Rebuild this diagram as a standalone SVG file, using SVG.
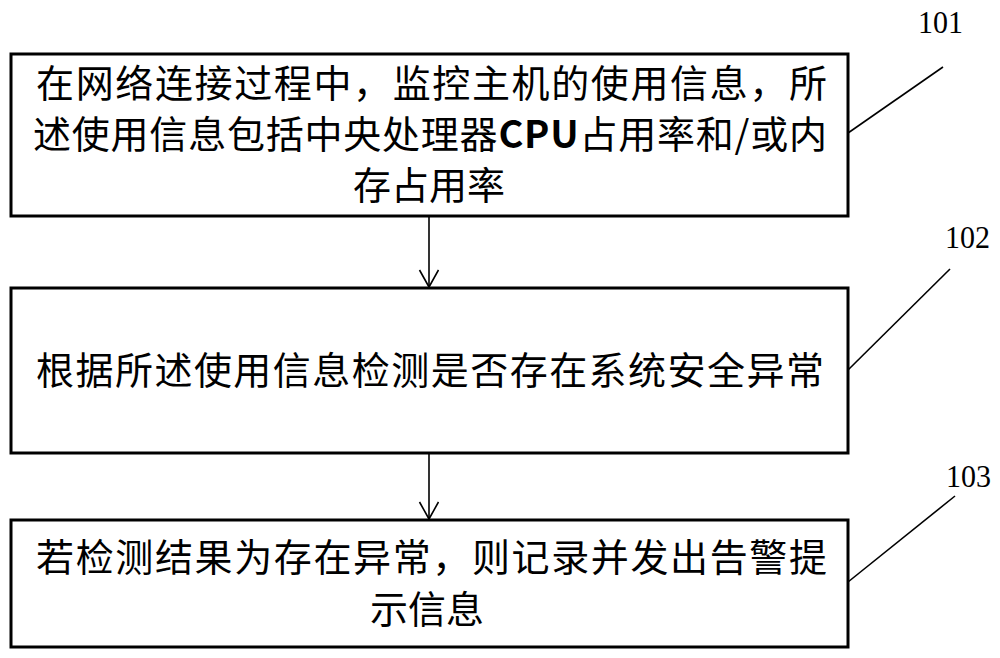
<svg xmlns="http://www.w3.org/2000/svg" width="1000" height="658" viewBox="0 0 1000 658">
<defs>
<style>
.box{fill:#fff;stroke:#000;stroke-width:3}
.t{font-family:"Noto Sans CJK SC","Noto Sans CJK JP",sans-serif;font-size:38px;fill:#000}
.lbl{font-family:"Liberation Serif","Times New Roman",serif;font-size:32px;fill:#000}
.ln{stroke:#000;stroke-width:1.6;fill:none}
</style>
<marker id="arr" markerWidth="24" markerHeight="24" refX="20" refY="10" orient="auto" markerUnits="userSpaceOnUse">
<path d="M3,0.5 L20,10 L3,19.5" fill="none" stroke="#000" stroke-width="1.6"/>
</marker>
</defs>
<rect width="1000" height="658" fill="#fff"/>
<g id="connectors">
<line class="ln" x1="429" y1="217" x2="429" y2="287" marker-end="url(#arr)"/>
<line class="ln" x1="429" y1="454" x2="429" y2="519" marker-end="url(#arr)"/>
<line class="ln" x1="848" y1="133" x2="943" y2="67"/>
<line class="ln" x1="848" y1="370" x2="950" y2="269"/>
<line class="ln" x1="848" y1="582" x2="955" y2="496"/>
</g>
<g id="node101">
<rect class="box" x="11" y="54" width="837" height="162"/>
<text class="t" x="36" y="97" textLength="791" lengthAdjust="spacing">在网络连接过程中，监控主机的使用信息，所</text>
<text class="t" x="33" y="148" textLength="794" lengthAdjust="spacing">述使用信息包括中央处理器<tspan font-weight="bold">CPU</tspan>占用率和/或内</text>
<text class="t" x="429" y="199" text-anchor="middle">存占用率</text>
</g>
<g id="node102">
<rect class="box" x="11" y="288" width="837" height="165"/>
<text class="t" x="36" y="384" textLength="788" lengthAdjust="spacing">根据所述使用信息检测是否存在系统安全异常</text>
</g>
<g id="node103">
<rect class="box" x="11" y="520" width="837" height="127"/>
<text class="t" x="36" y="571" textLength="791" lengthAdjust="spacing">若检测结果为存在异常，则记录并发出告警提</text>
<text class="t" x="427" y="623" text-anchor="middle">示信息</text>
</g>
<g id="labels">
<text class="lbl" x="918" y="33" textLength="45" lengthAdjust="spacingAndGlyphs">101</text>
<text class="lbl" x="945" y="248" textLength="45" lengthAdjust="spacingAndGlyphs">102</text>
<text class="lbl" x="946" y="487" textLength="45" lengthAdjust="spacingAndGlyphs">103</text>
</g>
</svg>
